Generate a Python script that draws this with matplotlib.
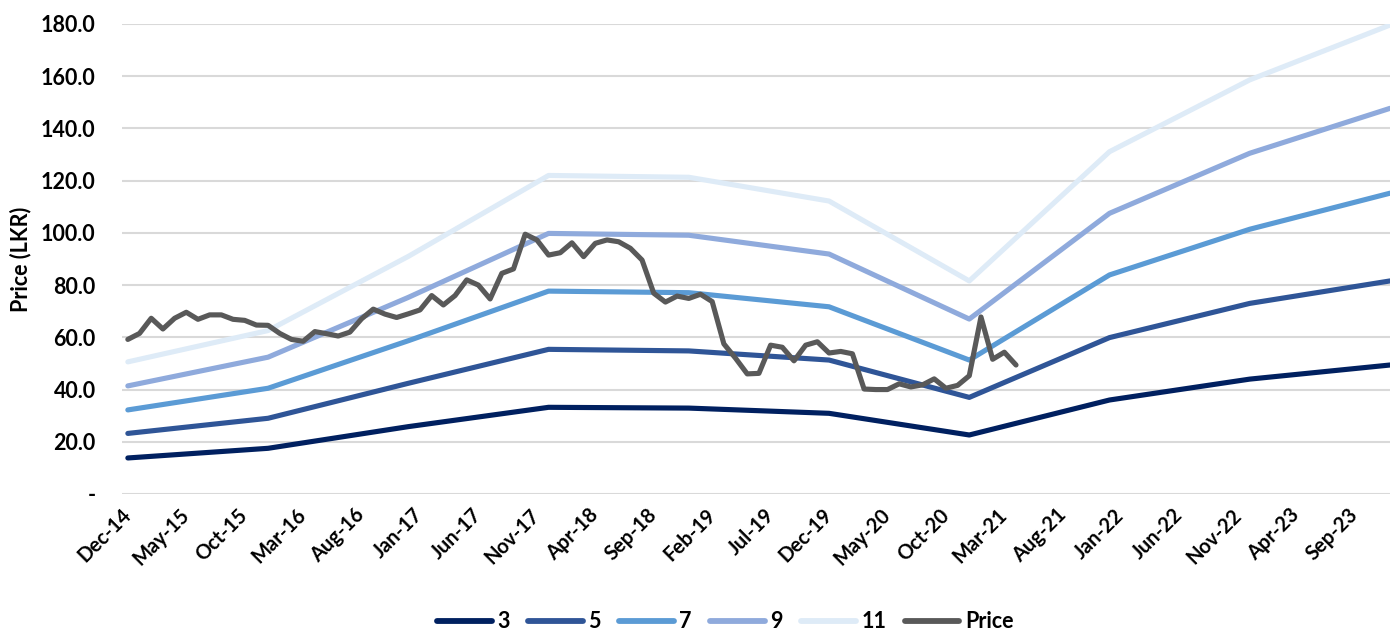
import matplotlib
matplotlib.use("Agg")
import matplotlib.pyplot as plt
from matplotlib.ticker import FixedLocator, FuncFormatter

plt.rcParams['font.family'] = ['Lato', 'DejaVu Sans']

MONTHS = ['Jan', 'Feb', 'Mar', 'Apr', 'May', 'Jun', 'Jul', 'Aug', 'Sep', 'Oct', 'Nov', 'Dec']

# ---- data ----
series_dates = ['Dec-14', 'Dec-15', 'Dec-16', 'Dec-17', 'Dec-18',
                'Dec-19', 'Dec-20', 'Dec-21', 'Dec-22', 'Dec-23']
s3 = [13.8, 17.5, 25.8, 33.2, 32.9, 30.9, 22.6, 36.0, 44.0, 49.4]
s5 = [23.2, 29.0, 42.4, 55.4, 54.8, 51.3, 37.0, 59.9, 73.0, 81.6]
s7 = [32.2, 40.5, 58.7, 77.7, 77.1, 71.7, 51.3, 83.9, 101.4, 115.2]
s9 = [41.4, 52.4, 75.3, 99.8, 99.1, 91.9, 67.0, 107.5, 130.5, 147.7]
s11 = [50.6, 62.6, 91.0, 122.0, 121.3, 112.2, 81.6, 131.1, 158.6, 179.6]

price_start = 'Dec-14'
price = [59.2, 61.5, 67.3, 63.2, 67.3, 69.6, 66.9, 68.6, 68.6, 66.9,
         66.5, 64.7, 64.6, 61.5, 59.2, 58.5, 62.2, 61.4, 60.5, 62.0,
         67.1, 70.8, 68.9, 67.6, 69.0, 70.5, 76.0, 72.4, 76.0, 82.0,
         80.0, 74.7, 84.5, 86.2, 99.5, 97.3, 91.5, 92.4, 96.2, 90.9,
         96.0, 97.3, 96.6, 94.1, 89.6, 76.9, 73.5, 75.8, 74.9, 76.5,
         73.7, 57.5, 52.0, 46.0, 46.2, 57.0, 56.2, 51.0, 57.0, 58.3,
         54.0, 54.6, 53.7, 40.2, 40.0, 40.0, 42.2, 41.0, 41.8, 44.1,
         40.5, 41.6, 45.3, 67.8, 51.6, 54.3, 49.4]

series_names = ['3', '5', '7', '9', '11']
series_colors = ['#002060', '#2F5597', '#5B9BD5', '#8FAADC', '#DEEBF7']
price_color = '#595959'

tick_labels = ['Dec-14', 'May-15', 'Oct-15', 'Mar-16', 'Aug-16', 'Jan-17',
               'Jun-17', 'Nov-17', 'Apr-18', 'Sep-18', 'Feb-19', 'Jul-19',
               'Dec-19', 'May-20', 'Oct-20', 'Mar-21', 'Aug-21', 'Jan-22',
               'Jun-22', 'Nov-22', 'Apr-23', 'Sep-23']


def month_index(label):
    m, y = label.split('-')
    return (2000 + int(y)) * 12 + MONTHS.index(m)


base = month_index('Dec-14')
sx = [month_index(d) - base for d in series_dates]
p0 = month_index(price_start) - base
px = [p0 + i for i in range(len(price))]
tx = [month_index(t) - base for t in tick_labels]

# ---- figure ----
fig = plt.figure(figsize=(13.92, 6.31), dpi=100)
ax = fig.add_axes([122 / 1392, 1 - 494 / 631, (1390 - 122) / 1392, (494 - 24) / 631])

for name, vals, col in zip(series_names, [s3, s5, s7, s9, s11], series_colors):
    ax.plot(sx, vals, color=col, lw=3.7, label=name, solid_capstyle='round',
            solid_joinstyle='round', zorder=3)
ax.plot(px, price, color=price_color, lw=3.7, label='Price', solid_capstyle='round',
        solid_joinstyle='round', zorder=4)

ax.set_xlim(-0.5, sx[-1])
ax.set_ylim(0, 180)
ax.yaxis.set_major_locator(FixedLocator(list(range(0, 181, 20))))
ax.yaxis.set_major_formatter(FuncFormatter(lambda v, p: '-' if v == 0 else f'{v:.1f}'))
ax.grid(axis='y', color='#D9D9D9', lw=1.5, zorder=0)
ax.set_axisbelow(True)
for s in ax.spines.values():
    s.set_visible(False)

ax.set_xticks(tx)
ax.set_xticklabels(tick_labels, rotation=45, ha='right', va='center',
                   rotation_mode='anchor', fontsize=14.5, fontweight='bold')
ax.tick_params(axis='x', length=0, pad=13)
ax.tick_params(axis='y', length=0, pad=19, labelsize=15.5)
for lab in ax.get_yticklabels():
    lab.set_fontweight('bold')

ax.set_ylabel('Price (LKR)', fontsize=15.5, fontweight='bold', labelpad=7)

leg = fig.legend(loc='center', bbox_to_anchor=(725 / 1392, 1 - 622 / 631), ncol=6,
                 frameon=False, prop={'size': 15.5, 'weight': 'bold'},
                 handlelength=2.55, handletextpad=0.25, columnspacing=0.85)
for line in leg.get_lines():
    line.set_linewidth(4.2)
    line.set_solid_capstyle('round')

fig.savefig('out.png', dpi=100)
